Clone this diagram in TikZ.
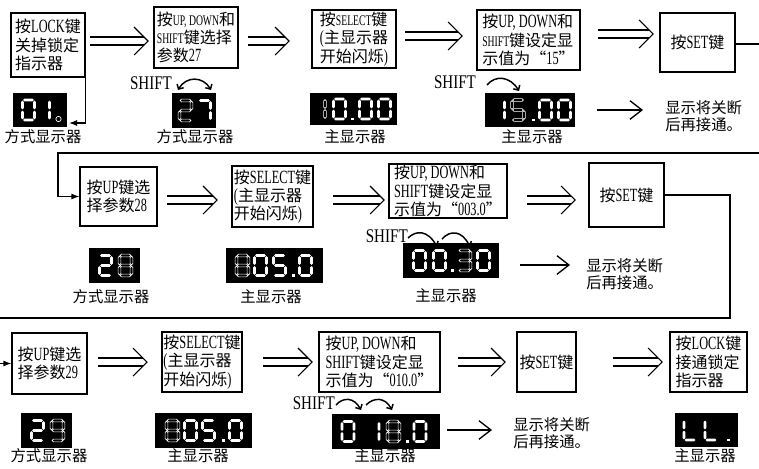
\documentclass[tikz,border=0pt]{standalone}
\usepackage{fontspec}
\setmainfont{Liberation Serif}[FakeStretch=0.66]
\newfontfamily\shf{Liberation Serif}[FakeStretch=0.78]
\newfontfamily\cjk{Noto Sans CJK SC}
\usetikzlibrary{arrows.meta}
\newcommand\zh[1]{{\cjk\fontsize{12}{13.7}\selectfont #1}}
\newcommand\sm[1]{{\fontsize{11}{13.7}\selectfont #1}}
% seven-segment pieces (local units = px, y down)
\def\sgA{(0.6,0)--(2,-1.4)--(10,-1.4)--(11.4,0)--(10,1.4)--(2,1.4)--cycle}
\def\sgB{(12,0.6)--(13.4,2)--(13.4,8)--(12,9.4)--(10.6,8)--(10.6,2)--cycle}
\def\sgC{(12,10.6)--(13.4,12)--(13.4,18)--(12,19.4)--(10.6,18)--(10.6,12)--cycle}
\def\sgD{(0.6,20)--(2,18.6)--(10,18.6)--(11.4,20)--(10,21.4)--(2,21.4)--cycle}
\def\sgE{(0,10.6)--(1.4,12)--(1.4,18)--(0,19.4)--(-1.4,18)--(-1.4,12)--cycle}
\def\sgF{(0,0.6)--(1.4,2)--(1.4,8)--(0,9.4)--(-1.4,8)--(-1.4,2)--cycle}
\def\sgG{(0.6,10)--(2,8.6)--(10,8.6)--(11.4,10)--(10,11.4)--(2,11.4)--cycle}
\def\digsegs#1#2#3#4#5#6#7#8{%
 \ifnum#1=1 \path[#8]\sgA;\fi
 \ifnum#2=1 \path[#8]\sgB;\fi
 \ifnum#3=1 \path[#8]\sgC;\fi
 \ifnum#4=1 \path[#8]\sgD;\fi
 \ifnum#5=1 \path[#8]\sgE;\fi
 \ifnum#6=1 \path[#8]\sgF;\fi
 \ifnum#7=1 \path[#8]\sgG;\fi}
\newcommand\dig[4]{\begin{scope}[shift={(#1,#2)}]\digsegs#3{#4}\end{scope}}
\newcommand\dpt[2]{\fill[white] (#1-1.5,#2+18.6) rectangle (#1+1.5,#2+21.4);}
\newcommand\bx[6]{\node[box,minimum width={(#4-#2)*0.75pt},minimum height={(#5-#3)*0.75pt}] (#1) at ({(#2+#4)/2},{(#3+#5)/2}) {#6};}
\newcommand\dbx[5]{\node[dispbox,minimum width={(#4-#2)*0.75pt},minimum height={(#5-#3)*0.75pt}] (#1) at ({(#2+#4)/2},{(#3+#5)/2}) {};}
\newcommand\dar[2]{%
 \draw[arrl] ([yshift=3pt]#1) -- ([xshift=-3pt,yshift=3pt]#2);
 \draw[arrl] ([yshift=-3pt]#1) -- ([xshift=-3pt,yshift=-3pt]#2);
 \draw[arrl] ([xshift=-10.5pt,yshift=10.5pt]#2) -- (#2) -- ([xshift=-10.5pt,yshift=-10.5pt]#2);}
\tikzset{
 box/.style={draw,line width=0.9pt,align=left,inner sep=0.8pt,font=\fontsize{14}{13.7}\selectfont},
 dispbox/.style={fill=black,inner sep=0pt},
 segf/.style={fill=white},
 sego/.style={draw=white,line width=0.45pt,fill=black},
 arrl/.style={line width=0.8pt,line join=miter},
 conn/.style={line width=0.9pt},
 fhead/.style={-{Latex[length=6pt,width=4.5pt]}},
 sarr/.style={line width=1pt,-{Straight Barb[length=9pt,width=14pt]}},
 barb/.tip={Straight Barb[angle=90:4pt]},
 carr/.style={line width=1.1pt,-barb},
 lab/.style={font=\cjk\fontsize{11.5}{12.75}\selectfont,inner sep=0pt},
 note/.style={font=\cjk\fontsize{11.5}{13}\selectfont,align=left,inner sep=0pt,anchor=west},
 shl/.style={font=\shf\fontsize{14.5}{14.5}\selectfont,inner sep=0pt}
}
\begin{document}
\begin{tikzpicture}[x=0.75pt,y=-0.75pt]
\useasboundingbox (0,0) rectangle (759,468);
\fill[white] (0,0) rectangle (759,468);
\clip (0,0) rectangle (759,468);
% ---------- row 1 ----------
\bx{b1}{11}{13}{85}{77}{\zh{按}LOCK\zh{键}\\\zh{关掉锁定}\\\zh{指示器}}
\bx{b2}{154}{7}{238}{68}{\zh{按}\sm{UP, DOWN}\zh{和}\\\sm{SHIFT}\zh{键选择}\\\zh{参数}27}
\bx{b3}{312}{10}{396}{68}{\zh{按}\sm{SELECT}\zh{键}\\(\zh{主显示器}\\\zh{开始闪烁})}
\bx{b4}{477}{10}{580}{70}{\zh{按}UP, DOWN\zh{和}\\\sm{SHIFT}\zh{键设定显}\\\zh{示值为“}15\zh{”}}
\bx{b5}{660}{13}{735}{72}{\zh{按}SET\zh{键}}
\coordinate (a1s) at (90,41);  \coordinate (a1e) at (148,41);
\coordinate (a2s) at (248,41); \coordinate (a2e) at (289,41);
\coordinate (a3s) at (405,36); \coordinate (a3e) at (462,36);
\coordinate (a4s) at (598,34); \coordinate (a4e) at (653,34);
\dar{a1s}{a1e}\dar{a2s}{a2e}\dar{a3s}{a3e}\dar{a4s}{a4e}
\coordinate (r1e) at (775,44);
\draw[conn] (b5.east |- r1e) -- (r1e);
% displays row 1
\dbx{d1}{13}{93}{67}{127}
\dig{22.5}{100}{1111110}{segf}\dig{37.5}{100}{0110000}{segf}
\draw[white,line width=0.5pt] (58.5,119) circle[radius=2pt];
\coordinate (c1) at (69,123);
\draw[conn,fhead] (b1.south east) |- (c1);
\dbx{d2}{172}{93}{216}{128}
\dig{179.5}{100.5}{1101101}{sego}\dig{198.5}{100.5}{1110000}{segf}
\dbx{d3}{310}{93}{397}{125}
\dig{313}{99}{0110000}{sego}\dig{333.5}{99}{1111110}{segf}\dpt{352.5}{99}
\dig{359.5}{99}{1111110}{segf}\dig{378.5}{99}{1111110}{segf}
\dbx{d4}{485}{93}{575}{127}
\dig{492.5}{100}{0110000}{segf}\dig{512}{100}{1011011}{sego}\dpt{533}{100}
\dig{539.5}{100}{1111110}{segf}\dig{558.5}{100}{1111110}{segf}
\node[lab] (l1) at (43,137) {方式显示器};
\node[lab] (l2) at (195,137) {方式显示器};
\node[lab] (l3) at (355,137) {主显示器};
\node[lab] (l4) at (532,137) {主显示器};
\node[shl] (sh1) at (151,83) {SHIFT};
\draw[carr,barb-barb] (178,90) .. controls (186,76) and (203,76) .. (211,90);
\node[shl] (sh2) at (455,82) {SHIFT};
\draw[carr] (487,85) .. controls (495,75) and (510,76) .. (519,91);
\coordinate (s1a) at (597,110); \coordinate (s1b) at (643,110);
\draw[sarr] (s1a) -- (s1b);
\node[note] (n1) at (665,116) {显示将关断\\后再接通。};
% ---------- row 2 ----------
\coordinate (t1) at (775,153); \coordinate (t2) at (58,153);
\bx{b6}{80}{167}{157}{226}{\zh{按}UP\zh{键选}\\\zh{择参数}28}
\draw[conn,fhead] (t1) -- (t2) |- (b6.west);
\bx{b7}{232}{166}{313}{227}{\zh{按}SELECT\zh{键}\\(\zh{主显示器}\\\zh{开始闪烁})}
\bx{b8}{389}{164}{507}{218}{\zh{按}UP, DOWN\zh{和}\\SHIFT\zh{键设定显}\\\zh{示值为“}003.0\zh{”}}
\bx{b9}{589}{163}{664}{227}{\zh{按}SET\zh{键}}
\coordinate (a5s) at (167,200); \coordinate (a5e) at (217,200);
\coordinate (a6s) at (333,200); \coordinate (a6e) at (384,200);
\coordinate (a7s) at (527,200); \coordinate (a7e) at (575,200);
\dar{a5s}{a5e}\dar{a6s}{a6e}\dar{a7s}{a7e}
\coordinate (r2c) at (730,318); \coordinate (r2e) at (-15,318);
\draw[conn] (b9.east) -| (r2c) -- (r2e);
\dbx{d5}{89}{248}{140}{283}
\dig{99.5}{255.5}{1101101}{segf}\dig{119.5}{255.5}{1111111}{sego}
\dbx{d6}{226}{248}{323}{283}
\dig{236.5}{255.5}{1111111}{sego}\dig{254.5}{255.5}{1111110}{segf}\dig{273.5}{255.5}{1011011}{segf}
\dpt{293}{255.5}\dig{299.5}{255.5}{1111110}{segf}
\dbx{d7}{403}{243}{499}{278}
\dig{413.5}{250.5}{1111110}{segf}\dig{433.5}{250.5}{1111110}{segf}\dpt{452.5}{250.5}
\dig{458.5}{250.5}{1111001}{sego}\dig{477.5}{250.5}{1111110}{segf}
\node[shl,anchor=east] (sh3) at (408,236) {SHIFT};
\draw[carr] (408,238) .. controls (416,230) and (428,230) .. (437,247);
\draw[carr] (442,239) .. controls (450,230) and (462,230) .. (470,247);
\node[lab] (l5) at (111,297) {方式显示器};
\node[lab] (l6) at (271,297) {主显示器};
\node[lab] (l7) at (446,296) {主显示器};
\coordinate (s2a) at (520,265); \coordinate (s2b) at (570,265);
\draw[sarr] (s2a) -- (s2b);
\node[note] (n2) at (586,274) {显示将关断\\后再接通。};
% ---------- row 3 ----------
\bx{b10}{12}{333}{87}{394}{\zh{按}UP\zh{键选}\\\zh{择参数}29}
\coordinate (r3s) at (-15,363.5);
\draw[conn,fhead] (r3s) -- (b10.west);
\bx{b11}{162}{332}{242}{392}{\zh{按}SELECT\zh{键}\\(\zh{主显示器}\\\zh{开始闪烁})}
\bx{b12}{319}{332}{440}{392}{\zh{按}UP, DOWN\zh{和}\\SHIFT\zh{键设定显}\\\zh{示值为“}010.0\zh{”}}
\bx{b13}{517}{332}{576}{392}{\zh{按}SET\zh{键}}
\bx{b14}{670}{332}{747}{392}{\zh{按}LOCK\zh{键}\\\zh{接通锁定}\\\zh{指示器}}
\coordinate (a8s) at (98,362);  \coordinate (a8e) at (147,362);
\coordinate (a9s) at (263,362); \coordinate (a9e) at (312,362);
\coordinate (a10s) at (458,362); \coordinate (a10e) at (505,362);
\coordinate (a11s) at (613,362); \coordinate (a11e) at (662,362);
\dar{a8s}{a8e}\dar{a9s}{a9e}\dar{a10s}{a10e}\dar{a11s}{a11e}
\node[shl,anchor=east] (sh4) at (335,403) {SHIFT};
\draw[carr] (336,405) .. controls (343,397) and (354,397) .. (361,410);
\draw[carr] (366,405) .. controls (374,397) and (385,397) .. (392,410);
\dbx{d8}{21}{413}{72}{448}
\dig{31.5}{420.5}{1101101}{segf}\dig{51.5}{420.5}{1111011}{sego}
\dbx{d9}{155}{413}{252}{448}
\dig{166.5}{420.5}{1111111}{sego}\dig{184.5}{420.5}{1111110}{segf}\dig{202.5}{420.5}{1011011}{segf}
\dpt{223}{420.5}\dig{229.5}{420.5}{1111110}{segf}
\dbx{d10}{332}{414}{440}{449}
\dig{342}{421.5}{1111110}{segf}\dig{367}{421.5}{0110000}{segf}\dig{387.5}{421.5}{1111111}{sego}
\dpt{407.5}{421.5}\dig{414}{421.5}{1111110}{segf}
\dbx{d11}{675}{413}{738}{447}
\dig{684}{420}{0001110}{segf}\dig{705}{420}{0001110}{segf}\dpt{728}{420}
\coordinate (s3a) at (447,430); \coordinate (s3b) at (492,430);
\draw[sarr] (s3a) -- (s3b);
\node[note] (n3) at (513,433) {显示将关断\\后再接通。};
\node[lab] (l8) at (49,456) {方式显示器};
\node[lab] (l9) at (198,456) {主显示器};
\node[lab] (l10) at (385,456) {主显示器};
\node[lab] (l11) at (705,456) {主显示器};
\end{tikzpicture}
\end{document}
